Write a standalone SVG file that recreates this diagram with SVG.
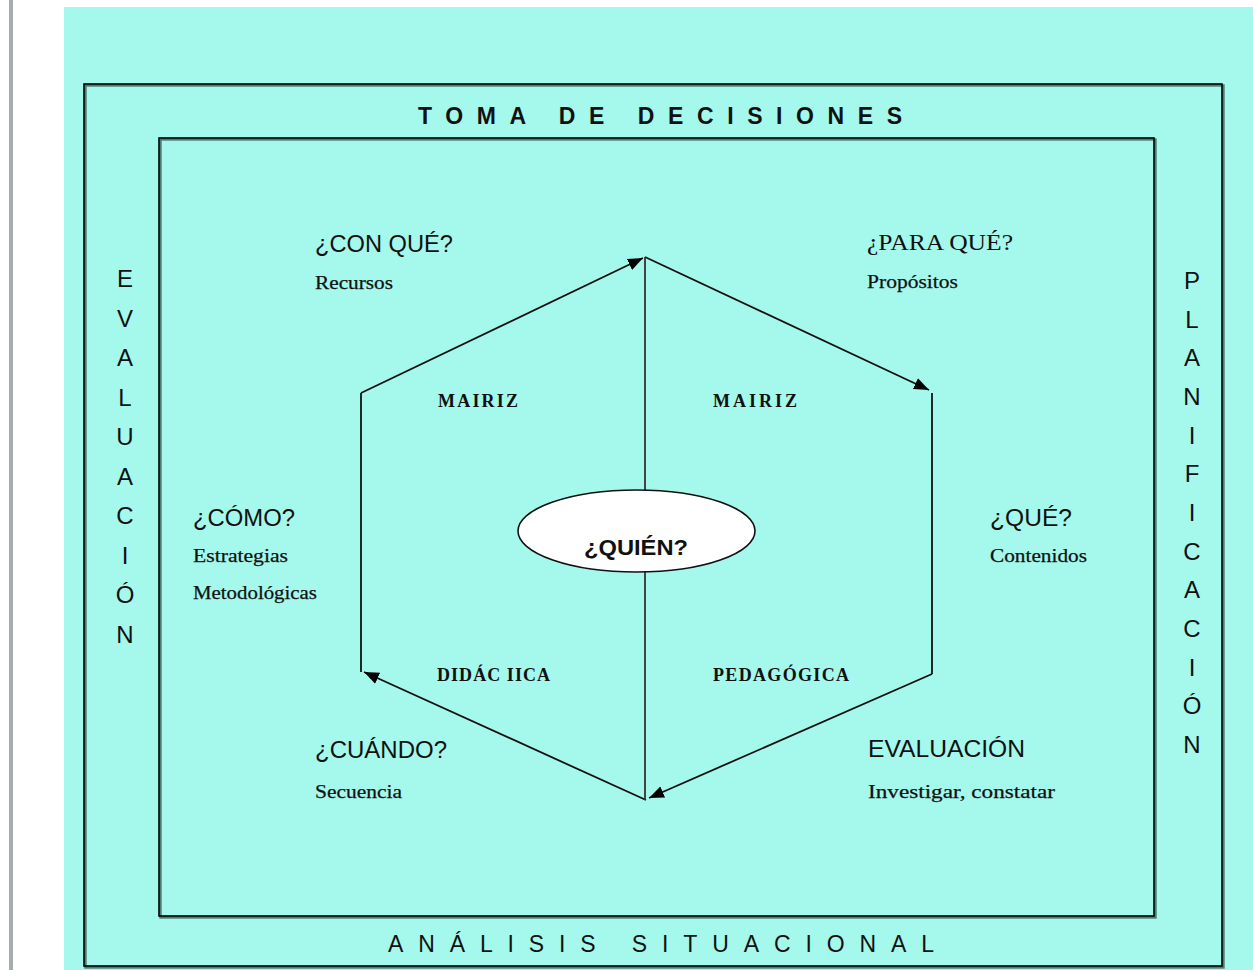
<svg xmlns="http://www.w3.org/2000/svg" width="1253" height="970" viewBox="0 0 1253 970">
  <defs>
    <marker id="arrow" markerUnits="userSpaceOnUse" markerWidth="16" markerHeight="14" viewBox="0 0 16 14" refX="15" refY="7" orient="auto">
      <path d="M0,1 L15,7 L0,13 Z" fill="#000"/>
    </marker>
    <style>
      .frame { fill: none; stroke: #000; stroke-width: 1.6; }
      .frame-shadow { fill: none; stroke: #4d7c75; stroke-width: 2.4; }
      .edge { fill: none; stroke: #111; stroke-width: 1.8; }
      .axis { fill: none; stroke: #333; stroke-width: 1.8; }
      .q { font-family: "Liberation Sans", Arial, sans-serif; font-size: 24px; fill: #111; }
      .qs { font-family: "Liberation Serif", "Times New Roman", serif; font-size: 24px; fill: #111; }
      .sub { font-family: "Liberation Serif", "Times New Roman", serif; font-size: 19px; fill: #111; stroke: #111; stroke-width: 0.25; }
      .mid { font-family: "Liberation Serif", "Times New Roman", serif; font-size: 18px; font-weight: bold; fill: #111; }
      .side { font-family: "Liberation Sans", Arial, sans-serif; font-size: 24px; fill: #111; text-anchor: middle; }
      .band { font-family: "Liberation Sans", Arial, sans-serif; fill: #111; }
    </style>
  </defs>

  <!-- page and margin rule -->
  <rect x="0" y="0" width="1253" height="970" fill="#ffffff"/>
  <rect x="9" y="0" width="4" height="970" fill="#a9abb2"/>
  <rect x="64" y="7" width="1189" height="963" fill="#a4f9ec"/>

  <!-- outer and inner frames -->
  <g id="outer-frame">
    <rect class="frame-shadow" x="85.5" y="85.5" width="1138" height="882"/>
    <rect class="frame" x="84" y="84" width="1138" height="882"/>
  </g>
  <g id="inner-frame">
    <rect class="frame-shadow" x="160.5" y="139.5" width="995" height="778"/>
    <rect class="frame" x="159" y="138" width="995" height="778"/>
  </g>

  <!-- frame captions -->
  <g id="toma-de-decisiones">
    <text class="band" x="418" y="124" font-size="23" font-weight="bold" textLength="484" lengthAdjust="spacing">TOMA DE DECISIONES</text>
  </g>
  <g id="analisis-situacional">
    <text class="band" x="388" y="952" font-size="23" textLength="546" lengthAdjust="spacing">ANÁLISIS SITUACIONAL</text>
  </g>
  <g id="evaluacion-lateral">
    <text class="side" x="125" y="287">E</text>
    <text class="side" x="125" y="326.5">V</text>
    <text class="side" x="125" y="366">A</text>
    <text class="side" x="125" y="405.5">L</text>
    <text class="side" x="125" y="445">U</text>
    <text class="side" x="125" y="484.5">A</text>
    <text class="side" x="125" y="524">C</text>
    <text class="side" x="125" y="563.5">I</text>
    <text class="side" x="125" y="603">Ó</text>
    <text class="side" x="125" y="642.5">N</text>
  </g>
  <g id="planificacion-lateral">
    <text class="side" x="1192" y="289">P</text>
    <text class="side" x="1192" y="327.7">L</text>
    <text class="side" x="1192" y="366.3">A</text>
    <text class="side" x="1192" y="405">N</text>
    <text class="side" x="1192" y="443.7">I</text>
    <text class="side" x="1192" y="482.3">F</text>
    <text class="side" x="1192" y="521">I</text>
    <text class="side" x="1192" y="559.7">C</text>
    <text class="side" x="1192" y="598.3">A</text>
    <text class="side" x="1192" y="637">C</text>
    <text class="side" x="1192" y="675.7">I</text>
    <text class="side" x="1192" y="714.3">Ó</text>
    <text class="side" x="1192" y="753">N</text>
  </g>

  <!-- hexagon cycle -->
  <g id="connectors">
    <line class="edge" x1="361" y1="393" x2="643" y2="258" marker-end="url(#arrow)"/>
    <line class="edge" x1="645" y1="257" x2="929" y2="390" marker-end="url(#arrow)"/>
    <line class="edge" x1="932" y1="393" x2="932" y2="674"/>
    <line class="edge" x1="932" y1="674" x2="649" y2="798" marker-end="url(#arrow)"/>
    <line class="edge" x1="646" y1="800" x2="364" y2="672" marker-end="url(#arrow)"/>
    <line class="edge" x1="361" y1="672" x2="361" y2="393"/>
    <line class="axis" x1="645" y1="257" x2="645" y2="490"/>
    <line class="axis" x1="645" y1="572" x2="645" y2="800"/>
  </g>

  <g id="quien">
    <ellipse cx="636.5" cy="531" rx="118.5" ry="41" fill="#ffffff" stroke="#111" stroke-width="1.6"/>
    <text x="584" y="555" font-family="'Liberation Sans', Arial, sans-serif" font-size="22" font-weight="bold" fill="#111" textLength="104" lengthAdjust="spacingAndGlyphs">¿QUIÉN?</text>
  </g>

  <g id="con-que">
    <text class="q" x="315" y="252" textLength="138" lengthAdjust="spacingAndGlyphs">¿CON QUÉ?</text>
    <text class="sub" x="315" y="289" textLength="78" lengthAdjust="spacingAndGlyphs">Recursos</text>
  </g>
  <g id="para-que">
    <text class="qs" x="867" y="250" textLength="146" lengthAdjust="spacingAndGlyphs">¿PARA QUÉ?</text>
    <text class="sub" x="867" y="288" textLength="91" lengthAdjust="spacingAndGlyphs">Propósitos</text>
  </g>
  <g id="como">
    <text class="q" x="193" y="526" textLength="102" lengthAdjust="spacingAndGlyphs">¿CÓMO?</text>
    <text class="sub" x="193" y="562" textLength="95" lengthAdjust="spacingAndGlyphs">Estrategias</text>
    <text class="sub" x="193" y="599" textLength="124" lengthAdjust="spacingAndGlyphs">Metodológicas</text>
  </g>
  <g id="que">
    <text class="q" x="990" y="526" textLength="82" lengthAdjust="spacingAndGlyphs">¿QUÉ?</text>
    <text class="sub" x="990" y="562" textLength="97" lengthAdjust="spacingAndGlyphs">Contenidos</text>
  </g>
  <g id="cuando">
    <text class="q" x="315" y="758" textLength="132" lengthAdjust="spacingAndGlyphs">¿CUÁNDO?</text>
    <text class="sub" x="315" y="798" textLength="87" lengthAdjust="spacingAndGlyphs">Secuencia</text>
  </g>
  <g id="evaluacion">
    <text class="q" x="868" y="757" textLength="157" lengthAdjust="spacingAndGlyphs">EVALUACIÓN</text>
    <text class="sub" x="868" y="798" textLength="187" lengthAdjust="spacingAndGlyphs">Investigar, constatar</text>
  </g>

  <g id="matriz-izquierda">
    <text class="mid" x="438" y="407" textLength="80" lengthAdjust="spacing">MAIRIZ</text>
  </g>
  <g id="matriz-derecha">
    <text class="mid" x="713" y="407" textLength="84" lengthAdjust="spacing">MAIRIZ</text>
  </g>
  <g id="didactica">
    <text class="mid" x="437" y="681" textLength="113" lengthAdjust="spacing">DIDÁC IICA</text>
  </g>
  <g id="pedagogica">
    <text class="mid" x="713" y="681" textLength="136" lengthAdjust="spacing">PEDAGÓGICA</text>
  </g>
</svg>
